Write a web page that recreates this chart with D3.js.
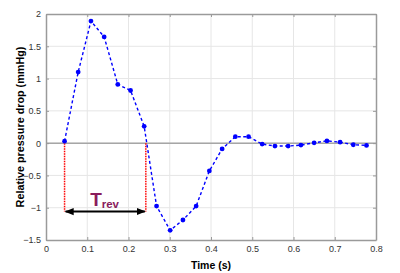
<!DOCTYPE html>
<html>
<head>
<meta charset="utf-8">
<script src="https://cdn.jsdelivr.net/npm/d3@7"></script>
<style>
  body { margin: 0; background: #fff; }
  text { font-family: "Liberation Sans", Arial, sans-serif; }
</style>
</head>
<body>
<div id="chart-area"></div>
<script>
// data
var times = [0.045, 0.078, 0.109, 0.141, 0.174, 0.205, 0.238, 0.268, 0.301, 0.332, 0.364, 0.396,
             0.427, 0.459, 0.491, 0.524, 0.555, 0.587, 0.618, 0.650, 0.681, 0.713, 0.745, 0.777];
var pressure = [0.03, 1.10, 1.89, 1.645, 0.91, 0.815, 0.26, -0.975, -1.35, -1.19, -0.975, -0.43,
                -0.09, 0.10, 0.10, -0.015, -0.045, -0.045, -0.03, 0.005, 0.035, 0.015, -0.025, -0.035];
var xTicks = [0, 0.1, 0.2, 0.3, 0.4, 0.5, 0.6, 0.7, 0.8];
var yTicks = [-1.5, -1, -0.5, 0, 0.5, 1, 1.5, 2];
var trevStart = 0.045, trevEnd = 0.242, trevLevel = -1.06;

var margin = {top: 14, right: 24, bottom: 33, left: 46},
    width = 400 - margin.left - margin.right,
    height = 273 - margin.top - margin.bottom;

var svg = d3.select("#chart-area").append("svg")
    .attr("width", 400)
    .attr("height", 273);

var defs = svg.append("defs");
defs.append("marker")
    .attr("id", "arrow")
    .attr("viewBox", "0 0 10 10")
    .attr("refX", 9).attr("refY", 5)
    .attr("markerWidth", 4.5).attr("markerHeight", 4.5)
    .attr("orient", "auto-start-reverse")
    .append("path")
    .attr("d", "M0,1 L10,5 L0,9 Z")
    .attr("fill", "#000");

var g = svg.append("g")
    .attr("transform", "translate(" + margin.left + "," + margin.top + ")");

var x = d3.scaleLinear().domain([0, 0.8]).range([0, width]);
var y = d3.scaleLinear().domain([-1.5, 2]).range([height, 0]);

// grid
g.append("g").selectAll("line").data(xTicks.slice(1, -1)).enter().append("line")
    .attr("x1", d => x(d)).attr("x2", d => x(d))
    .attr("y1", 0).attr("y2", height)
    .attr("stroke", "#e6e6e6").attr("stroke-width", 1);
g.append("g").selectAll("line").data(yTicks.slice(1, -1)).enter().append("line")
    .attr("x1", 0).attr("x2", width)
    .attr("y1", d => y(d)).attr("y2", d => y(d))
    .attr("stroke", "#e6e6e6").attr("stroke-width", 1);

// zero line
g.append("line")
    .attr("x1", 0).attr("x2", width)
    .attr("y1", y(0)).attr("y2", y(0))
    .attr("stroke", "#a6a6a6").attr("stroke-width", 1.5);

// axes
var xAxis = g.append("g")
    .attr("transform", "translate(0," + height + ")")
    .call(d3.axisBottom(x).tickValues(xTicks).tickSizeInner(-3).tickSizeOuter(0).tickPadding(6)
        .tickFormat(d3.format("")));
var xTop = g.append("g")
    .call(d3.axisTop(x).tickValues(xTicks).tickSizeInner(-3).tickSizeOuter(0).tickFormat(""));
var yAxis = g.append("g")
    .call(d3.axisLeft(y).tickValues(yTicks).tickSizeInner(-3).tickSizeOuter(0).tickPadding(5)
        .tickFormat(d3.format("")));
var yRight = g.append("g")
    .attr("transform", "translate(" + width + ",0)")
    .call(d3.axisRight(y).tickValues(yTicks).tickSizeInner(-3).tickSizeOuter(0).tickFormat(""));

g.selectAll(".domain").attr("stroke", "#9a9a9a").attr("stroke-width", 1.5);
g.selectAll(".tick line").attr("stroke", "#9a9a9a");
g.selectAll(".tick text").attr("fill", "#333").style("font-size", "9px");

// axis titles
g.append("text")
    .attr("x", width / 2).attr("y", height + 29)
    .attr("text-anchor", "middle")
    .style("font-size", "10.5px").style("font-weight", "bold")
    .text("Time (s)");
g.append("text")
    .attr("transform", "translate(" + (-22) + "," + (height / 2) + ") rotate(-90)")
    .attr("text-anchor", "middle")
    .style("font-size", "10.8px").style("font-weight", "bold")
    .text("Relative pressure drop (mmHg)");

// T_rev markers
[trevStart, trevEnd].forEach(function(t) {
    g.append("line")
        .attr("x1", x(t)).attr("x2", x(t))
        .attr("y1", y(0)).attr("y2", y(trevLevel))
        .attr("stroke", "#ff0000").attr("stroke-width", 1.5)
        .attr("stroke-dasharray", "1.5,1");
});
g.append("line")
    .attr("x1", x(trevStart) + 1).attr("x2", x(trevEnd) - 1)
    .attr("y1", y(trevLevel)).attr("y2", y(trevLevel))
    .attr("stroke", "#000").attr("stroke-width", 2)
    .attr("marker-start", "url(#arrow)")
    .attr("marker-end", "url(#arrow)");

var label = g.append("text")
    .attr("x", x(0.107)).attr("y", y(trevLevel) - 6)
    .attr("fill", "#8a1c5c")
    .style("font-weight", "bold");
label.append("tspan").style("font-size", "19px").text("T");
label.append("tspan").style("font-size", "11.5px").attr("dy", 2).text("rev");

// series
var line = d3.line()
    .x((d, i) => x(times[i]))
    .y(d => y(d));

g.append("path")
    .datum(pressure)
    .attr("fill", "none")
    .attr("stroke", "#0000ff")
    .attr("stroke-width", 1.4)
    .attr("stroke-dasharray", "3,2.5")
    .attr("d", line);

g.selectAll(".pt")
    .data(pressure)
    .enter().append("circle")
    .attr("class", "pt")
    .attr("cx", (d, i) => x(times[i]))
    .attr("cy", d => y(d))
    .attr("r", 2.4)
    .attr("fill", "#0000ff");
</script>
</body>
</html>
